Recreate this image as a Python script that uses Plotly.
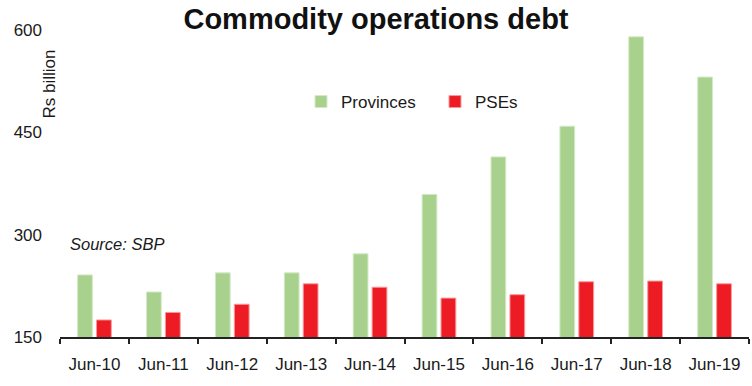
import plotly.graph_objects as go

categories = ["Jun-10", "Jun-11", "Jun-12", "Jun-13", "Jun-14",
              "Jun-15", "Jun-16", "Jun-17", "Jun-18", "Jun-19"]
provinces = [241, 216, 244, 244, 272, 359, 414, 459, 590, 531]
pses = [175, 186, 198, 228, 223, 207, 212, 231, 232, 228]
y_ticks = [150, 300, 450, 600]

FONT = "Liberation Sans, Arial, sans-serif"

W, H = 752, 386
L, R, T, B = 60, 3, 30, 49
PW = W - L - R
PH = H - T - B

fig = go.Figure()
fig.add_trace(go.Bar(
    x=categories, y=provinces, name="Provinces",
    marker=dict(color="#A9D18E", line=dict(color="#D4EAC6", width=1)),
))
fig.add_trace(go.Bar(
    x=categories, y=pses, name="PSEs",
    marker=dict(color="#ED1C24", line=dict(color="#F79A9A", width=1)),
))

fig.update_layout(
    width=W, height=H,
    margin=dict(l=L, r=R, t=T, b=B),
    paper_bgcolor="white", plot_bgcolor="white",
    barmode="group", bargap=0.45, bargroupgap=0.22,
    font=dict(family=FONT, size=16, color="#1a1a1a"),
    title=dict(text="<b>Commodity operations debt</b>", x=0.5, xanchor="center",
               y=1 - 19 / H, yanchor="middle", xref="container", yref="container",
               font=dict(family=FONT, size=29, color="#111111")),
    showlegend=True,
    legend=dict(orientation="h", x=(301 - L) / PW, xanchor="left",
                y=(337 - 102) / PH, yanchor="middle",
                font=dict(family=FONT, size=17), bgcolor="rgba(0,0,0,0)",
                entrywidth=89, entrywidthmode="pixels"),
    xaxis=dict(type="category", tickson="boundaries", ticks="outside", ticklen=5,
               tickcolor="#222", tickwidth=1.5, showline=True, linecolor="#222",
               linewidth=1.5, showgrid=False, ticklabelstandoff=11,
               range=[-0.5, 9.5], tickfont=dict(size=17)),
    yaxis=dict(range=[150, 600], tickvals=y_ticks, showgrid=False, zeroline=False,
               showline=False, ticks="", ticklabelstandoff=17, tickfont=dict(size=17)),
    annotations=[
        dict(text="Rs billion", textangle=-90, xref="paper", yref="paper",
             x=(49 - L) / PW, y=(337 - 84.5) / PH, xanchor="center", yanchor="middle",
             showarrow=False, font=dict(family=FONT, size=17)),
        dict(text="<i>Source: SBP</i>", xref="paper", yref="paper",
             x=(68 - L) / PW, y=(337 - 244) / PH, xanchor="left", yanchor="middle",
             showarrow=False, font=dict(family=FONT, size=16.5)),
    ],
)

fig.write_html("out.html",
               config={"displayModeBar": False},
               post_script="document.body.style.margin='0';document.body.style.padding='0';")
